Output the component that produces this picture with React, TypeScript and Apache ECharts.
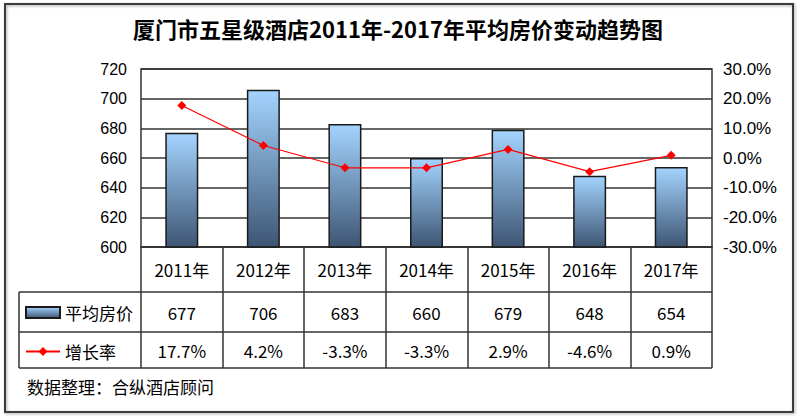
import React, { useEffect, useRef } from "react";
import * as echarts from "echarts";

const years = ["2011年", "2012年", "2013年", "2014年", "2015年", "2016年", "2017年"];
const prices = [677, 706, 683, 660, 679, 648, 654];
const growth = [17.7, 4.2, -3.3, -3.3, 2.9, -4.6, 0.9];
const leftAxis = { min: 600, max: 720, interval: 20 };
const rightAxis = { min: -30, max: 30, interval: 10 };
const titleText = "厦门市五星级酒店2011年-2017年平均房价变动趋势图";
const sourceText = "数据整理：合纵酒店顾问";
const seriesNames = ["平均房价", "增长率"];

const priceLabels = prices.map((v) => String(v));
const growthLabels = growth.map((v) => v.toFixed(1) + "%");

const CJK = "'Noto Sans CJK SC', 'Noto Sans', sans-serif";
const ARIAL = "'Liberation Sans', Arial, sans-serif";
const RULE = "#333";

export default function App() {
  const ref = useRef<HTMLDivElement>(null);
  useEffect(() => {
    if (!ref.current) return;
    const chart = echarts.init(ref.current, undefined, { renderer: "svg" });
    const tableLabel = (margin: number, labels: string[]) => ({
      interval: 0,
      margin,
      verticalAlign: "middle",
      fontSize: 17,
      color: "#000",
      fontFamily: CJK,
      formatter: (_v: string, i: number) => labels[i],
    });
    const hline = (y: number) => ({
      type: "line",
      shape: { x1: 19, y1: y, x2: 712, y2: y },
      style: { stroke: RULE, lineWidth: 1.5 },
    });
    chart.setOption({
      animation: false,
      backgroundColor: "#fff",
      grid: {
        left: 141,
        right: 88,
        top: 69,
        bottom: 172,
        show: true,
        borderColor: RULE,
        borderWidth: 1.5,
      },
      legend: {
        orient: "vertical",
        left: 25,
        top: 304,
        padding: 0,
        itemWidth: 34,
        itemHeight: 11,
        itemGap: 22,
        textStyle: { fontSize: 17, lineHeight: 16, color: "#000", fontFamily: CJK },
        data: [{ name: seriesNames[0], icon: "rect" }, { name: seriesNames[1] }],
      },
      xAxis: [
        {
          type: "category",
          data: years,
          position: "bottom",
          axisLine: { show: true, onZero: false, lineStyle: { color: RULE, width: 1.5 } },
          axisTick: { show: true, inside: false, interval: 0, length: 121, lineStyle: { color: RULE, width: 1.5 } },
          splitLine: { show: false },
          splitArea: { show: false },
          axisLabel: tableLabel(22, years),
        },
        {
          type: "category",
          data: years,
          position: "bottom",
          offset: 45,
          axisLine: { show: false, onZero: false },
          axisTick: { show: false },
          splitLine: { show: false },
          axisLabel: tableLabel(20, priceLabels),
        },
        {
          type: "category",
          data: years,
          position: "bottom",
          offset: 85,
          axisLine: { show: false, onZero: false },
          axisTick: { show: false },
          splitLine: { show: false },
          axisLabel: tableLabel(18, growthLabels),
        },
      ],
      yAxis: [
        {
          type: "value",
          min: leftAxis.min,
          max: leftAxis.max,
          interval: leftAxis.interval,
          axisLine: { show: false, onZero: false },
          axisTick: { show: false },
          axisLabel: { fontSize: 16, color: "#000", margin: 14, fontFamily: ARIAL },
          splitLine: { show: true, lineStyle: { color: RULE, width: 1.5 } },
        },
        {
          type: "value",
          min: rightAxis.min,
          max: rightAxis.max,
          interval: rightAxis.interval,
          axisLine: { show: false, onZero: false },
          axisTick: { show: false },
          splitLine: { show: false },
          axisLabel: {
            fontSize: 17,
            color: "#000",
            margin: 11,
            fontFamily: ARIAL,
            formatter: (v: number) => v.toFixed(1) + "%",
          },
        },
      ],
      series: [
        {
          name: seriesNames[0],
          type: "bar",
          xAxisIndex: 0,
          yAxisIndex: 0,
          data: prices,
          barWidth: 33,
          itemStyle: {
            color: new echarts.graphic.LinearGradient(0, 0, 0, 1, [
              { offset: 0, color: "#a3d4ff" },
              { offset: 1, color: "#3e5573" },
            ]),
            borderColor: "#1a1a1a",
            borderWidth: 1.5,
          },
        },
        {
          name: seriesNames[1],
          type: "line",
          xAxisIndex: 0,
          yAxisIndex: 1,
          data: growth,
          symbol: "diamond",
          symbolSize: 9,
          lineStyle: { color: "#ff0000", width: 1.2 },
          itemStyle: { color: "#ff0000" },
        },
      ],
      graphic: [
        {
          type: "rect",
          shape: { x: 5, y: 4, width: 788, height: 408 },
          style: {
            fill: "none",
            stroke: "#3a3a3a",
            lineWidth: 2,
            shadowBlur: 3,
            shadowOffsetX: 1,
            shadowOffsetY: 1,
            shadowColor: "rgba(0,0,0,0.35)",
          },
          silent: true,
        },
        {
          type: "text",
          x: 398,
          y: 28,
          style: {
            text: titleText,
            fontSize: 22,
            fontWeight: "bold",
            fontFamily: CJK,
            fill: "#000",
            align: "center",
            verticalAlign: "middle",
          },
        },
        hline(292),
        hline(332),
        hline(368),
        {
          type: "line",
          shape: { x1: 19, y1: 292, x2: 19, y2: 368 },
          style: { stroke: RULE, lineWidth: 1.5 },
        },
        {
          type: "text",
          x: 27,
          y: 386,
          style: {
            text: sourceText,
            fontSize: 17,
            fontFamily: CJK,
            fill: "#000",
            align: "left",
            verticalAlign: "middle",
          },
        },
      ],
    });
    return () => chart.dispose();
  }, []);
  return (
    <div
      ref={ref}
      style={{ position: "fixed", left: 0, top: 0, width: 800, height: 419, background: "#fff" }}
    />
  );
}
